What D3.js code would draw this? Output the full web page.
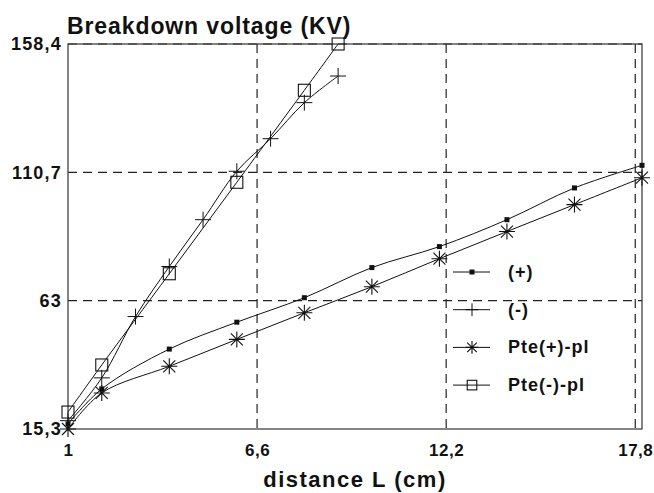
<!DOCTYPE html>
<html>
<head>
<meta charset="utf-8">
<script src="https://cdn.jsdelivr.net/npm/d3@7"></script>
<style>
  body { margin: 0; background: #fff; }
  text { font-family: "Liberation Sans", Arial, sans-serif; font-weight: bold; fill: #111; }
</style>
</head>
<body>
<div id="chart"></div>
<script>
// data (distance in cm, voltage in kV)
var xPlus = [1, 2, 4, 6, 8, 10, 12, 14, 16, 18];
var yPlus = [17.2, 30.2, 45.0, 55.0, 64.1, 75.3, 83.1, 93.1, 104.9, 113.3];

var xMinus = [1, 2, 3, 4, 5, 6, 7, 8, 9];
var yMinus = [18.4, 34.3, 57.1, 75.7, 93.1, 111.1, 123.2, 136.6, 146.5];

var xPtePlus = [1, 2, 4, 6, 8, 10, 12, 14, 16, 18];
var yPtePlus = [15.3, 28.7, 38.6, 48.6, 58.5, 68.2, 78.6, 88.7, 98.7, 108.7];

var xPteMinus = [1, 2, 4, 6, 8, 9];
var yPteMinus = [21.6, 39.1, 73.0, 107.0, 141.2, 158.4];

var seriesNames = ["(+)", "(-)", "Pte(+)-pl", "Pte(-)-pl"];
var xTicks = [1, 6.6, 12.2, 17.8];
var yTicks = [15.3, 63, 110.7, 158.4];

function chart() {
  var width = 654, height = 493;
  var left = 68, right = 642, top = 44, bottom = 429;

  var svg = d3.select("#chart").append("svg")
    .attr("width", width)
    .attr("height", height);

  var x = d3.scaleLinear().domain([1, 18]).range([left, right]);
  var y = d3.scaleLinear().domain([15.3, 158.4]).range([bottom, top]);

  var fmt = function (d) { return String(d).replace(".", ","); };

  // grid
  svg.append("g").selectAll("line.gx")
    .data(xTicks.slice(1))
    .enter().append("line")
    .attr("x1", d => x(d)).attr("x2", d => x(d))
    .attr("y1", top).attr("y2", bottom)
    .attr("stroke", "#222").attr("stroke-width", 1.2)
    .attr("stroke-dasharray", "9,6");

  svg.append("g").selectAll("line.gy")
    .data(yTicks.slice(1))
    .enter().append("line")
    .attr("x1", left).attr("x2", right)
    .attr("y1", d => y(d)).attr("y2", d => y(d))
    .attr("stroke", "#222").attr("stroke-width", 1.2)
    .attr("stroke-dasharray", "9,6");

  // frame
  svg.append("rect")
    .attr("x", left).attr("y", top)
    .attr("width", right - left).attr("height", bottom - top)
    .attr("fill", "none").attr("stroke", "#333").attr("stroke-width", 1.2);

  // axes (labels only)
  var xAxis = svg.append("g")
    .attr("transform", "translate(0," + bottom + ")")
    .call(d3.axisBottom(x).tickValues(xTicks).tickFormat(fmt).tickSize(0).tickPadding(15));
  xAxis.select(".domain").remove();
  xAxis.selectAll("text")
    .style("font-size", "17px").style("font-family", "Liberation Sans, Arial, sans-serif")
    .style("font-weight", "bold").style("letter-spacing", "0.5px").attr("fill", "#111");

  var yAxis = svg.append("g")
    .attr("transform", "translate(" + left + ",0)")
    .call(d3.axisLeft(y).tickValues(yTicks).tickFormat(fmt).tickSize(0).tickPadding(6));
  yAxis.select(".domain").remove();
  yAxis.selectAll("text")
    .style("font-size", "18px").style("font-family", "Liberation Sans, Arial, sans-serif")
    .style("font-weight", "bold").style("letter-spacing", "1.2px").attr("fill", "#111");

  svg.append("text")
    .attr("x", 67).attr("y", 34)
    .style("font-size", "23px").style("letter-spacing", "0.9px")
    .text("Breakdown voltage (KV)");

  svg.append("text")
    .attr("x", 355).attr("y", 487)
    .attr("text-anchor", "middle")
    .style("font-size", "22px").style("letter-spacing", "1.5px")
    .text("distance L (cm)");

  // series
  var series = [
    { name: seriesNames[0], xs: xPlus, ys: yPlus, marker: "dot" },
    { name: seriesNames[1], xs: xMinus, ys: yMinus, marker: "plus" },
    { name: seriesNames[2], xs: xPtePlus, ys: yPtePlus, marker: "star" },
    { name: seriesNames[3], xs: xPteMinus, ys: yPteMinus, marker: "square" }
  ];

  var line = d3.line()
    .x(d => x(d[0])).y(d => y(d[1]))
    .curve(d3.curveCatmullRom.alpha(0.5));

  function drawMarker(g, type, k) {
    k = k || 1;
    if (type === "dot") {
      g.append("rect").attr("x", -2.5).attr("y", -2.5).attr("width", 5).attr("height", 5)
        .attr("fill", "#111");
    } else if (type === "plus") {
      g.append("path").attr("d", "M-8,0H8M0,-8V8")
        .attr("transform", "scale(" + k + ")")
        .attr("stroke", "#111").attr("stroke-width", 1 / k).attr("fill", "none");
    } else if (type === "star") {
      g.append("path").attr("d", "M-8,0H8M0,-8V8M-6,-6L6,6M-6,6L6,-6")
        .attr("transform", "scale(" + k + ")")
        .attr("stroke", "#111").attr("stroke-width", 1.1 / k).attr("fill", "none");
    } else {
      g.append("rect").attr("x", -6).attr("y", -6).attr("width", 12).attr("height", 12)
        .attr("transform", "scale(" + k + ")")
        .attr("fill", "none").attr("stroke", "#111").attr("stroke-width", 1.1 / k);
    }
  }

  series.forEach(function (s) {
    var pts = s.xs.map((v, i) => [v, s.ys[i]]);
    svg.append("path")
      .datum(pts)
      .attr("d", line)
      .attr("fill", "none")
      .attr("stroke", "#111")
      .attr("stroke-width", 1);
    svg.append("g").selectAll("g")
      .data(pts)
      .enter().append("g")
      .attr("transform", d => "translate(" + x(d[0]) + "," + y(d[1]) + ")")
      .each(function () { drawMarker(d3.select(this), s.marker); });
  });

  // legend
  var legend = svg.append("g").attr("transform", "translate(453,272)");
  var rows = legend.selectAll("g")
    .data(series)
    .enter().append("g")
    .attr("transform", (d, i) => "translate(0," + i * 37.7 + ")");
  rows.append("line")
    .attr("x1", 0).attr("x2", 37).attr("y1", 0).attr("y2", 0)
    .attr("stroke", "#111").attr("stroke-width", 1);
  rows.append("g")
    .attr("transform", "translate(19,0)")
    .each(function (d) { drawMarker(d3.select(this), d.marker, 0.8); });
  rows.append("text")
    .attr("x", 55).attr("y", 6)
    .style("font-size", "18px").style("letter-spacing", "1px")
    .text(d => d.name);
}

chart();
</script>
</body>
</html>
